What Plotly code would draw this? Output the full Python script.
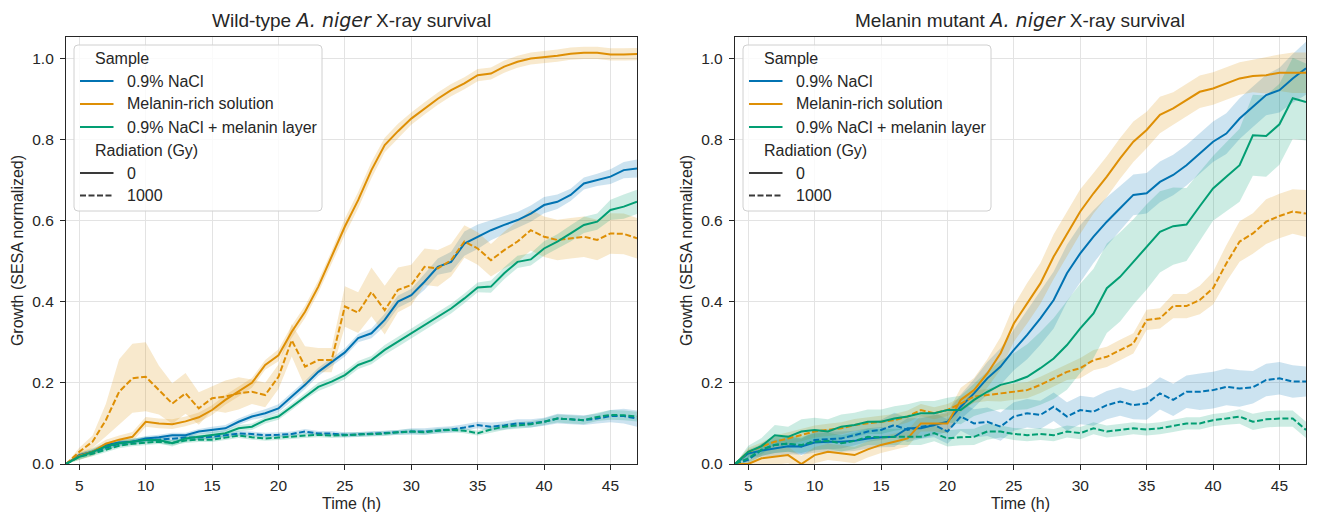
import plotly.graph_objects as go

time_h = list(range(4, 48))

# ---------------- Wild-type panel ----------------
wt_nacl_0 = [0.0, 0.022, 0.03, 0.047, 0.053, 0.055, 0.063, 0.066, 0.071, 0.071,
             0.08, 0.084, 0.088, 0.104, 0.117, 0.125, 0.137, 0.166, 0.195, 0.227,
             0.252, 0.275, 0.31, 0.322, 0.355, 0.40, 0.416, 0.449, 0.486, 0.498,
             0.543, 0.56, 0.576, 0.589, 0.601, 0.617, 0.638, 0.646, 0.663, 0.691,
             0.70, 0.708, 0.724, 0.728]
wt_mel_0 = [0.0, 0.02, 0.03, 0.05, 0.06, 0.067, 0.104, 0.1, 0.098, 0.105,
            0.115, 0.133, 0.158, 0.178, 0.2, 0.244, 0.268, 0.326, 0.375, 0.437,
            0.51, 0.585, 0.65, 0.724, 0.786, 0.82, 0.851, 0.876, 0.9, 0.921,
            0.938, 0.958, 0.962, 0.979, 0.991, 0.999, 1.002, 1.006, 1.011, 1.013,
            1.013, 1.009, 1.009, 1.01]
wt_layer_0 = [0.0, 0.018, 0.03, 0.043, 0.051, 0.055, 0.059, 0.059, 0.051, 0.063,
              0.067, 0.071, 0.076, 0.088, 0.092, 0.108, 0.117, 0.141, 0.166, 0.19,
              0.203, 0.219, 0.244, 0.256, 0.281, 0.301, 0.322, 0.342, 0.363, 0.383,
              0.408, 0.435, 0.437, 0.47, 0.498, 0.504, 0.531, 0.548, 0.568, 0.589,
              0.597, 0.626, 0.634, 0.646]
wt_nacl_1000 = [0.0, 0.02, 0.03, 0.04, 0.05, 0.055, 0.06, 0.06, 0.063, 0.065,
                0.065, 0.067, 0.071, 0.075, 0.074, 0.071, 0.072, 0.074, 0.08, 0.075,
                0.075, 0.072, 0.073, 0.075, 0.077, 0.078, 0.08, 0.08, 0.083, 0.085,
                0.09, 0.096, 0.092, 0.095, 0.1, 0.1, 0.104, 0.112, 0.11, 0.108,
                0.112, 0.118, 0.118, 0.112]
wt_mel_1000 = [0.0, 0.03, 0.055, 0.108, 0.178, 0.211, 0.215, 0.182, 0.149, 0.174,
               0.137, 0.162, 0.166, 0.174, 0.178, 0.17, 0.215, 0.305, 0.24, 0.256,
               0.256, 0.388, 0.373, 0.424, 0.379, 0.429, 0.441, 0.486, 0.482, 0.502,
               0.548, 0.531, 0.502, 0.527, 0.548, 0.576, 0.56, 0.552, 0.556, 0.56,
               0.552, 0.568, 0.567, 0.556]
wt_layer_1000 = [0.0, 0.018, 0.025, 0.035, 0.045, 0.05, 0.053, 0.055, 0.052, 0.058,
                 0.06, 0.06, 0.065, 0.07, 0.066, 0.063, 0.065, 0.068, 0.07, 0.072,
                 0.07, 0.071, 0.072, 0.074, 0.075, 0.078, 0.08, 0.078, 0.082, 0.084,
                 0.082, 0.076, 0.085, 0.092, 0.095, 0.098, 0.104, 0.112, 0.11, 0.108,
                 0.116, 0.121, 0.12, 0.117]

# confidence-band half widths (read from the shaded areas)
wt_nacl_0_ci = [0, .006, .006, .006, .006, .006, .006, .006, .006, .006,
                .006, .008, .008, .008, .008, .01, .01, .01, .01, .01,
                .01, .01, .01, .012, .015, .015, .015, .02, .02, .025,
                .03, .03, .025, .022, .02, .02, .02, .018, .015, .015,
                .015, .018, .02, .022]
wt_mel_0_ci = [0, .01, .01, .01, .01, .012, .012, .012, .012, .012,
               .012, .012, .012, .012, .012, .012, .015, .015, .015, .015,
               .015, .02, .02, .02, .018, .018, .015, .015, .015, .015,
               .015, .015, .015, .015, .015, .015, .015, .015, .015, .015,
               .015, .015, .015, .015]
wt_layer_0_ci = [0, .008, .008, .008, .008, .008, .008, .008, .008, .008,
                 .008, .008, .008, .008, .008, .008, .008, .008, .008, .01,
                 .01, .01, .01, .01, .012, .012, .012, .012, .012, .012,
                 .012, .012, .015, .015, .015, .015, .018, .018, .02, .02,
                 .02, .025, .03, .03]
wt_nacl_1000_ci = [0, .005, .005, .006, .006, .006, .006, .006, .006, .006,
                   .006, .006, .006, .006, .006, .006, .006, .006, .006, .006,
                   .006, .006, .006, .006, .006, .006, .008, .008, .008, .008,
                   .008, .008, .01, .01, .01, .01, .01, .012, .012, .012,
                   .012, .015, .018, .02]
wt_mel_1000_ci = [0, .01, .015, .04, .08, .085, .085, .06, .05, .05,
                  .04, .03, .04, .04, .03, .03, .03, .04, .05, .03,
                  .03, .05, .05, .06, .06, .055, .05, .045, .045, .04,
                  .04, .04, .04, .045, .05, .05, .05, .05, .05, .05,
                  .05, .05, .05, .05]
wt_layer_1000_ci = [0, .006, .006, .006, .006, .006, .006, .006, .006, .006,
                    .006, .006, .006, .006, .006, .006, .006, .006, .006, .006,
                    .006, .006, .006, .006, .006, .006, .006, .006, .006, .006,
                    .006, .006, .008, .008, .008, .008, .008, .01, .01, .01,
                    .01, .012, .012, .012]

# ---------------- Melanin mutant panel ----------------
mm_nacl_0 = [0.0, 0.026, 0.033, 0.039, 0.044, 0.043, 0.053, 0.055, 0.055, 0.057,
             0.063, 0.066, 0.067, 0.088, 0.088, 0.096, 0.104, 0.141, 0.174, 0.211,
             0.24, 0.281, 0.318, 0.359, 0.404, 0.47, 0.519, 0.56, 0.597, 0.63,
             0.663, 0.667, 0.695, 0.712, 0.736, 0.765, 0.794, 0.814, 0.851, 0.88,
             0.909, 0.921, 0.95, 0.975]
mm_mel_0 = [0.0, 0.0, 0.014, 0.018, 0.022, 0.0, 0.022, 0.03, 0.026, 0.022,
            0.036, 0.047, 0.055, 0.063, 0.1, 0.1, 0.1, 0.158, 0.182, 0.223,
            0.273, 0.346, 0.396, 0.445, 0.511, 0.568, 0.622, 0.667, 0.708, 0.753,
            0.794, 0.823, 0.86, 0.876, 0.897, 0.917, 0.925, 0.938, 0.95, 0.956,
            0.958, 0.964, 0.964, 0.964]
mm_layer_0 = [0.0, 0.03, 0.044, 0.071, 0.067, 0.08, 0.084, 0.08, 0.092, 0.096,
              0.104, 0.104, 0.112, 0.117, 0.125, 0.125, 0.133, 0.133, 0.158, 0.178,
              0.195, 0.203, 0.215, 0.236, 0.26, 0.293, 0.334, 0.371, 0.433, 0.461,
              0.498, 0.535, 0.572, 0.586, 0.59, 0.635, 0.679, 0.708, 0.736, 0.81,
              0.808, 0.837, 0.901, 0.892]
mm_nacl_1000 = [0.0, 0.01, 0.035, 0.047, 0.05, 0.043, 0.059, 0.061, 0.063, 0.071,
                0.08, 0.084, 0.096, 0.084, 0.092, 0.096, 0.08, 0.117, 0.1, 0.104,
                0.092, 0.117, 0.125, 0.121, 0.141, 0.117, 0.133, 0.129, 0.145, 0.154,
                0.145, 0.149, 0.174, 0.158, 0.178, 0.178, 0.182, 0.19, 0.186, 0.189,
                0.207, 0.211, 0.203, 0.203]
mm_mel_1000 = [0.0, 0.03, 0.043, 0.055, 0.063, 0.071, 0.08, 0.084, 0.088, 0.096,
               0.1, 0.104, 0.108, 0.117, 0.133, 0.125, 0.133, 0.149, 0.166, 0.17,
               0.174, 0.178, 0.182, 0.195, 0.211, 0.227, 0.236, 0.256, 0.264, 0.281,
               0.297, 0.355, 0.359, 0.389, 0.389, 0.404, 0.433, 0.494, 0.548, 0.568,
               0.597, 0.611, 0.622, 0.617]
mm_layer_1000 = [0.0, 0.014, 0.035, 0.047, 0.05, 0.047, 0.055, 0.057, 0.051, 0.057,
                 0.067, 0.066, 0.067, 0.067, 0.067, 0.076, 0.063, 0.066, 0.067, 0.08,
                 0.08, 0.074, 0.071, 0.074, 0.071, 0.08, 0.076, 0.088, 0.08, 0.084,
                 0.088, 0.085, 0.088, 0.094, 0.1, 0.1, 0.108, 0.112, 0.117, 0.104,
                 0.11, 0.112, 0.112, 0.084]

mm_nacl_0_ci = [0, .01, .015, .02, .02, .02, .025, .025, .025, .025,
                .025, .025, .025, .025, .025, .025, .025, .03, .035, .04,
                .045, .05, .06, .065, .07, .07, .07, .065, .06, .055,
                .05, .05, .05, .05, .05, .05, .05, .05, .05, .05,
                .05, .055, .06, .065]
mm_mel_0_ci = [0, .01, .015, .02, .02, .02, .02, .02, .02, .02,
               .02, .02, .02, .02, .02, .02, .025, .03, .03, .035,
               .04, .045, .05, .05, .055, .055, .055, .05, .05, .05,
               .05, .045, .045, .04, .04, .04, .04, .04, .04, .04,
               .045, .045, .05, .05]
mm_layer_0_ci = [0, .015, .02, .025, .025, .03, .03, .03, .03, .03,
                 .03, .03, .03, .03, .03, .03, .03, .035, .04, .05,
                 .06, .07, .08, .09, .1, .11, .11, .11, .11, .11,
                 .105, .105, .1, .095, .09, .085, .08, .085, .09, .1,
                 .1, .1, .1, .095]
mm_nacl_1000_ci = [0, .01, .015, .02, .02, .02, .025, .025, .025, .025,
                   .025, .025, .03, .03, .03, .03, .03, .035, .035, .035,
                   .035, .035, .035, .035, .035, .035, .035, .035, .035, .035,
                   .035, .04, .04, .04, .04, .045, .045, .045, .045, .04,
                   .04, .04, .04, .037]
mm_mel_1000_ci = [0, .01, .01, .015, .015, .015, .015, .015, .015, .015,
                  .015, .015, .015, .015, .015, .015, .015, .015, .015, .015,
                  .02, .02, .02, .02, .02, .02, .025, .025, .025, .025,
                  .025, .025, .025, .03, .03, .035, .04, .045, .05, .05,
                  .055, .055, .055, .058]
mm_layer_1000_ci = [0, .01, .015, .02, .02, .02, .02, .02, .02, .02,
                    .02, .02, .02, .02, .02, .02, .02, .02, .02, .02,
                    .015, .015, .015, .015, .015, .015, .015, .015, .015, .015,
                    .015, .015, .015, .015, .015, .015, .015, .015, .018, .02,
                    .02, .02, .02, .02]

sample_names = ["0.9% NaCl", "Melanin-rich solution", "0.9% NaCl + melanin layer"]
radiation_levels = ["0", "1000"]
x_ticks = [5, 10, 15, 20, 25, 30, 35, 40, 45]
y_ticks = [0.0, 0.2, 0.4, 0.6, 0.8, 1.0]

colors = ["#0173b2", "#de8f05", "#029e73"]
fills = ["rgba(1,115,178,0.2)", "rgba(222,143,5,0.2)", "rgba(2,158,115,0.2)"]
FONT = "Liberation Sans, Arial, sans-serif"
TXT = "#262626"
DASH = "6px,2.5px"

panels = [
    ("x", "y", [(wt_nacl_0, wt_nacl_0_ci, wt_nacl_1000, wt_nacl_1000_ci),
                (wt_mel_0, wt_mel_0_ci, wt_mel_1000, wt_mel_1000_ci),
                (wt_layer_0, wt_layer_0_ci, wt_layer_1000, wt_layer_1000_ci)]),
    ("x2", "y2", [(mm_nacl_0, mm_nacl_0_ci, mm_nacl_1000, mm_nacl_1000_ci),
                  (mm_mel_0, mm_mel_0_ci, mm_mel_1000, mm_mel_1000_ci),
                  (mm_layer_0, mm_layer_0_ci, mm_layer_1000, mm_layer_1000_ci)]),
]

fig = go.Figure()

# bands first (under all lines)
for xa, ya, series in panels:
    for i, (s0, c0, s1, c1) in enumerate(series):
        for vals, ci in ((s0, c0), (s1, c1)):
            upper = [v + c for v, c in zip(vals, ci)]
            lower = [v - c for v, c in zip(vals, ci)]
            fig.add_trace(go.Scatter(x=time_h, y=upper, xaxis=xa, yaxis=ya, mode="lines",
                                     line=dict(width=0), showlegend=False, hoverinfo="skip"))
            fig.add_trace(go.Scatter(x=time_h, y=lower, xaxis=xa, yaxis=ya, mode="lines",
                                     line=dict(width=0), fill="tonexty", fillcolor=fills[i],
                                     showlegend=False, hoverinfo="skip"))

# lines
for xa, ya, series in panels:
    for i, (s0, c0, s1, c1) in enumerate(series):
        fig.add_trace(go.Scatter(x=time_h, y=s0, xaxis=xa, yaxis=ya, mode="lines",
                                 name=sample_names[i] + ", 0 Gy",
                                 line=dict(color=colors[i], width=2), showlegend=False))
        fig.add_trace(go.Scatter(x=time_h, y=s1, xaxis=xa, yaxis=ya, mode="lines",
                                 name=sample_names[i] + ", 1000 Gy",
                                 line=dict(color=colors[i], width=2, dash=DASH),
                                 showlegend=False))

# ---- legends drawn as shapes + text (seaborn style, one per panel) ----
W, H = 1319, 512
ML, MR, MT, MB = 66, 13, 37, 48
PW, PH = W - ML - MR, H - MT - MB


def px(xp):
    return (xp - ML) / PW


def py(yp):
    return (H - MB - yp) / PH


shapes = []
annotations = []
box_w, box_h = 248, 166
rows = [58.5, 81, 104, 127, 150, 173, 195.5]
for bx in (74, 743):
    by = 45
    x0, x1, y0, y1 = px(bx), px(bx + box_w), py(by + box_h), py(by)
    rx, ry = 4 / PW, 4 / PH
    path = (f"M {x0 + rx},{y1} L {x1 - rx},{y1} Q {x1},{y1} {x1},{y1 - ry} "
            f"L {x1},{y0 + ry} Q {x1},{y0} {x1 - rx},{y0} L {x0 + rx},{y0} "
            f"Q {x0},{y0} {x0},{y0 + ry} L {x0},{y1 - ry} Q {x0},{y1} {x0 + rx},{y1} Z")
    shapes.append(dict(type="path", path=path, xref="paper", yref="paper",
                       fillcolor="rgba(255,255,255,0.8)", line=dict(color="#d0d0d0", width=1)))
    entries = ([("title", "Sample", None, None)]
               + [("item", n, colors[k], "solid") for k, n in enumerate(sample_names)]
               + [("title", "Radiation (Gy)", None, None)]
               + [("item", lev, "#3a3a3a", "solid" if k == 0 else DASH)
                  for k, lev in enumerate(radiation_levels)])
    for (kind, text, col, dash), ry_ in zip(entries, rows):
        if kind == "title":
            annotations.append(dict(text=text, xref="paper", yref="paper", x=px(bx + 18.5),
                                    y=py(ry_), xanchor="left", yanchor="middle", showarrow=False,
                                    font=dict(size=16, color=TXT, family=FONT)))
        else:
            shapes.append(dict(type="line", xref="paper", yref="paper",
                               x0=px(bx + 6), x1=px(bx + 39.5), y0=py(ry_), y1=py(ry_),
                               line=dict(color=col, width=2, dash=dash)))
            annotations.append(dict(text=text, xref="paper", yref="paper", x=px(bx + 51),
                                    y=py(ry_), xanchor="left", yanchor="middle", showarrow=False,
                                    font=dict(size=16, color=TXT, family=FONT)))

annotations += [
    dict(text="Wild-type <span style='font-family:DejaVu Sans'><i>A. niger</i></span> X-ray survival",
         xref="x domain", yref="paper", x=0.5, y=1, xanchor="center", yanchor="bottom",
         yshift=4, showarrow=False, font=dict(size=19, color=TXT, family=FONT)),
    dict(text="Melanin mutant <span style='font-family:DejaVu Sans'><i>A. niger</i></span> X-ray survival",
         xref="x2 domain", yref="paper", x=0.5, y=1, xanchor="center", yanchor="bottom",
         yshift=4, showarrow=False, font=dict(size=19, color=TXT, family=FONT)),
]

axis_common = dict(showline=True, linecolor="#262626", linewidth=1.25, mirror=True,
                   ticks="outside", ticklen=5, tickwidth=1.25, tickcolor="#262626",
                   showgrid=True, gridcolor="#e3e3e3", gridwidth=1, zeroline=False,
                   automargin=False,
                   tickfont=dict(size=15.5, color=TXT, family=FONT),
                   title_font=dict(size=16, color=TXT, family=FONT))

fig.update_layout(
    width=W, height=H,
    margin=dict(l=ML, r=MR, t=MT, b=MB),
    plot_bgcolor="white", paper_bgcolor="white",
    font=dict(family=FONT, color=TXT, size=15),
    showlegend=False,
    xaxis=dict(domain=[0, 0.4605], range=[4, 47], tickvals=x_ticks, ticklabelstandoff=2,
               title=dict(text="Time (h)", standoff=7), anchor="y", **axis_common),
    yaxis=dict(domain=[0, 1], range=[0, 1.052], tickvals=y_ticks, tickformat=".1f",
               ticklabelstandoff=3,
               title=dict(text="Growth (SESA normalized)", standoff=4), anchor="x", **axis_common),
    xaxis2=dict(domain=[0.5395, 1], range=[4, 47], tickvals=x_ticks, ticklabelstandoff=2,
                title=dict(text="Time (h)", standoff=7), anchor="y2", **axis_common),
    yaxis2=dict(domain=[0, 1], range=[0, 1.052], tickvals=y_ticks, tickformat=".1f",
                ticklabelstandoff=3,
                title=dict(text="Growth (SESA normalized)", standoff=4), anchor="x2", **axis_common),
    shapes=shapes,
    annotations=annotations,
)

fig.write_html("out.html")
